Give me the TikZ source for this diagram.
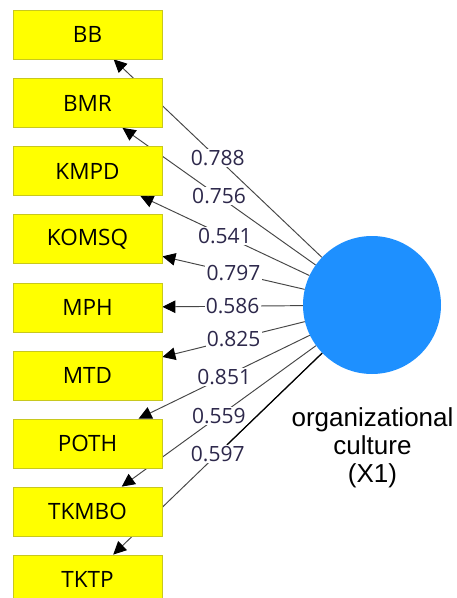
\documentclass[tikz,border=0pt]{standalone}
\usepackage{fontspec}
\newfontfamily\lblfont{Open Sans}
\newfontfamily\arialfont{Liberation Sans}
\usetikzlibrary{arrows.meta,backgrounds}
\definecolor{boxyellow}{RGB}{255,255,0}
\definecolor{boxborder}{RGB}{200,200,30}
\definecolor{lvblue}{RGB}{30,144,255}
\definecolor{edgegray}{RGB}{70,70,70}
\definecolor{lbltext}{RGB}{45,40,75}
\begin{document}
\begin{tikzpicture}[x=1pt,y=-1pt,
  box/.style={draw=boxborder, fill=boxyellow, line width=0.8pt,
    minimum width=149pt, minimum height=49pt, inner sep=0pt,
    font=\lblfont\fontsize{22.5}{22.5}\selectfont, text=black},
  latent/.style={circle, fill=lvblue, minimum size=138pt, inner sep=0pt},
  edge/.style={draw=edgegray, line width=0.95pt,
    -{Triangle[length=13pt,width=12.5pt,color=black]}},
  lbl/.style={fill=white, inner sep=1.2pt, text=lbltext,
    font=\lblfont\fontsize{21}{21}\selectfont},
  caption/.style={align=center, font=\arialfont\fontsize{26}{28}\selectfont, text=black}
]
\useasboundingbox (0,0) rectangle (457,598);

\node[box] (bb)    at (87.5,34.5)  {BB};
\node[box] (bmr)   at (87.5,103)   {BMR};
\node[box] (kmpd)  at (87.5,171)   {KMPD};
\node[box] (komsq) at (87.5,239)   {KOMSQ};
\node[box] (mph)   at (87.5,307.5) {MPH};
\node[box] (mtd)   at (87.5,375.5) {MTD};
\node[box] (poth)  at (87.5,443.5) {POTH};
\node[box] (tkmbo) at (87.5,511.5) {TKMBO};
\node[box] (tktp)  at (87.5,579.5) {TKTP};

\node[latent] (oc) at (372,305) {};
\node[caption, anchor=base] (cap) at (372.5,482) {organizational\\culture\\(X1)};

\path (oc) -- (bb)    node[midway, lbl] (l1) {0.788};
\path (oc) -- (bmr)   node[midway, lbl] (l2) {0.756};
\path (oc) -- (kmpd)  node[midway, lbl] (l3) {0.541};
\path (oc) -- (komsq) node[midway, lbl] (l4) {0.797};
\path (oc) -- (mph)   node[midway, lbl] (l5) {0.586};
\path (oc) -- (mtd)   node[midway, lbl] (l6) {0.825};
\path (oc) -- (poth)  node[midway, lbl] (l7) {0.851};
\path (oc) -- (tkmbo) node[midway, lbl] (l8) {0.559};
\path (oc) -- (tktp)  node[midway, lbl] (l9) {0.597};

\begin{pgfonlayer}{background}
  \fill[white] (0,0) rectangle (457,598);
  \draw[edge] (oc) -- (bb);
  \draw[edge] (oc) -- (bmr);
  \draw[edge] (oc) -- (kmpd);
  \draw[edge] (oc) -- (komsq);
  \draw[edge] (oc) -- (mph);
  \draw[edge] (oc) -- (mtd);
  \draw[edge] (oc) -- (poth);
  \draw[edge] (oc) -- (tkmbo);
  \draw[edge] (oc) -- (tktp);
  \draw[black, line width=1.2pt] (oc) -- (l9);
\end{pgfonlayer}
\end{tikzpicture}
\end{document}
